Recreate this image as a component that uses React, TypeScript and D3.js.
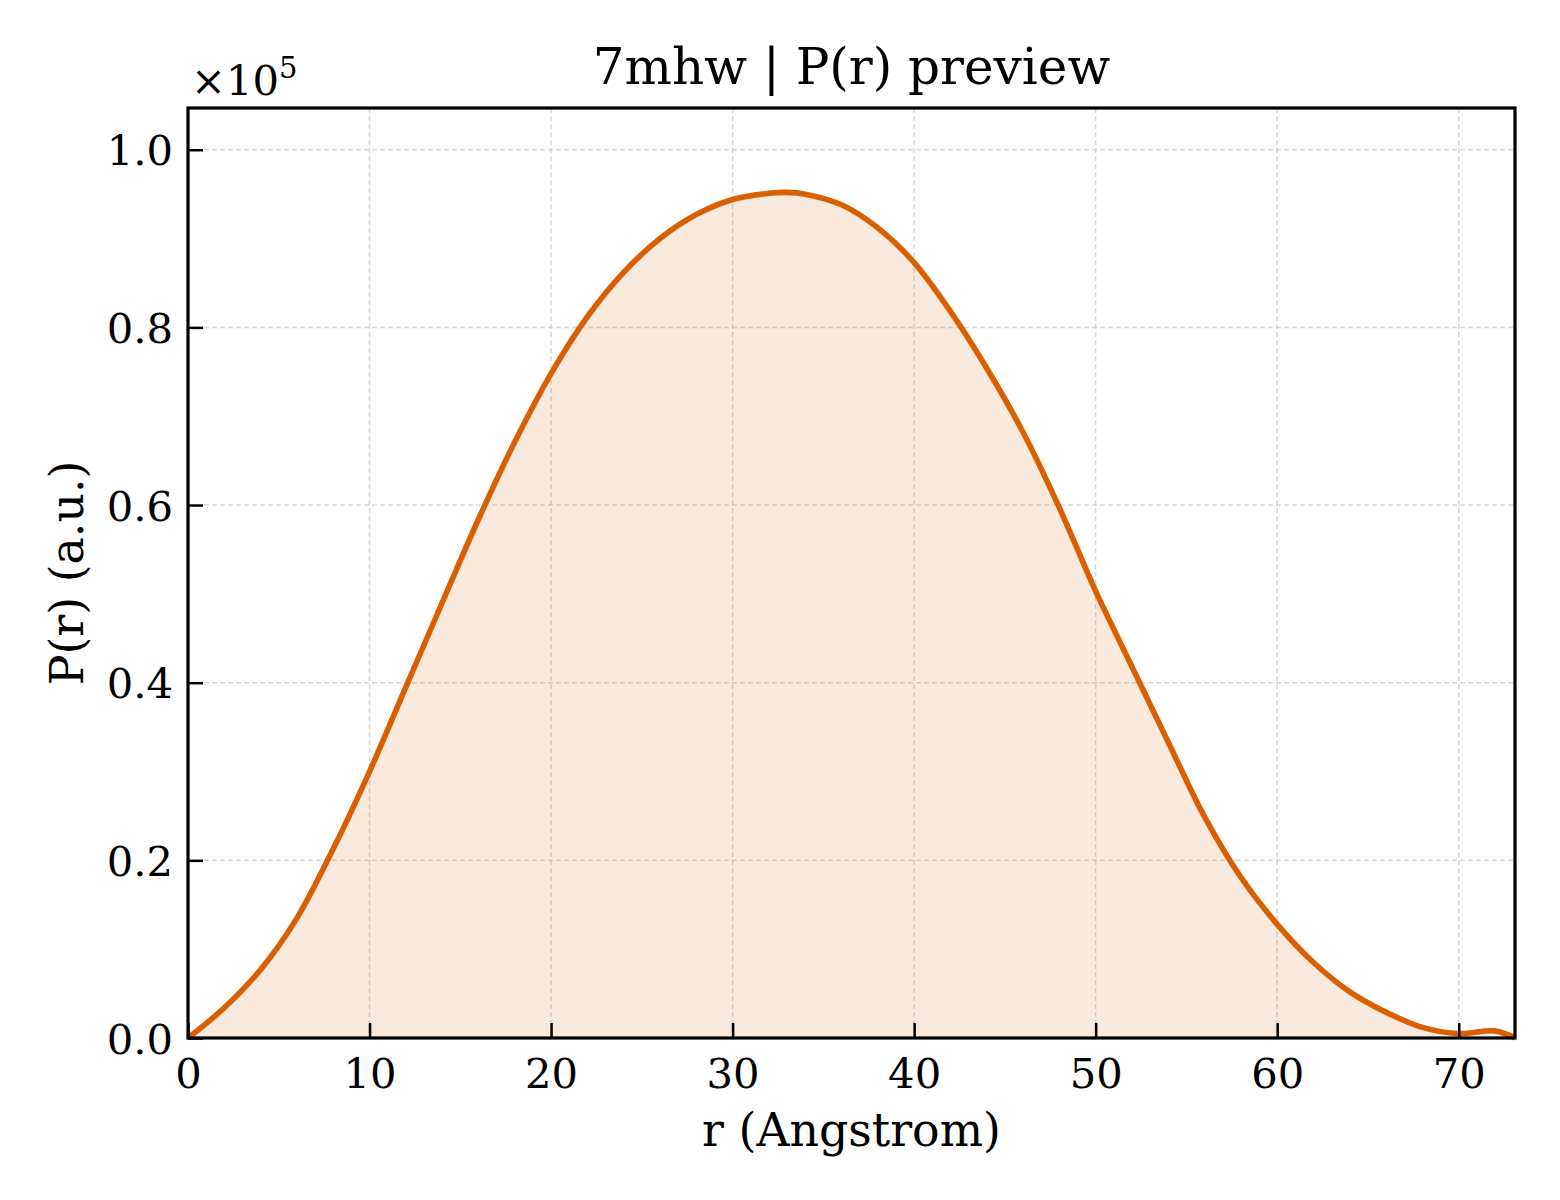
import { useEffect, useRef } from 'react';
import * as d3 from 'd3';

const rValues = [0, 2, 4, 6, 8, 10, 12, 14, 16, 18, 20, 22, 24, 26, 28, 30, 32, 33, 34, 36, 38, 40, 42, 44, 46, 48, 50, 52, 54, 56, 58, 60, 62, 64, 66, 68, 70, 72, 73.1];
const pValues = [0, 0.034, 0.077, 0.135, 0.213, 0.3, 0.395, 0.49, 0.584, 0.671, 0.748, 0.812, 0.862, 0.9, 0.927, 0.944, 0.951, 0.952, 0.95, 0.938, 0.912, 0.873, 0.818, 0.754, 0.682, 0.597, 0.503, 0.418, 0.333, 0.249, 0.181, 0.128, 0.085, 0.052, 0.029, 0.012, 0.005, 0.008, 0];

const xTicks = [0, 10, 20, 30, 40, 50, 60, 70];
const yTicks = [0, 0.2, 0.4, 0.6, 0.8, 1.0];

const title = '7mhw | P(r) preview';
const xLabel = 'r (Angstrom)';
const yLabel = 'P(r) (a.u.)';

export default function App() {
  const svgRef = useRef<SVGSVGElement>(null);
  const width = 1560;
  const height = 1200;

  useEffect(() => {
    if (!svgRef.current) return;
    const svg = d3.select(svgRef.current);
    svg.selectAll('*').remove();

    const margin = { top: 108, right: 45, bottom: 162, left: 188 };
    const innerWidth = width - margin.left - margin.right;
    const innerHeight = height - margin.top - margin.bottom;
    const font = 'DejaVu Serif, serif';
    const color = '#d95f02';

    svg.append('rect').attr('width', width).attr('height', height).attr('fill', '#fff');

    const g = svg.append('g').attr('transform', `translate(${margin.left},${margin.top})`);

    const x = d3.scaleLinear().domain([0, 73.1]).range([0, innerWidth]);
    const y = d3.scaleLinear().domain([0, 1.047]).range([innerHeight, 0]);

    const data = rValues.map((r, i) => ({ r, p: pValues[i] }));

    // grid
    g.selectAll('.gx')
      .data(xTicks)
      .enter().append('line')
      .attr('x1', d => x(d)).attr('x2', d => x(d))
      .attr('y1', 0).attr('y2', innerHeight)
      .attr('stroke', '#b0b0b0').attr('stroke-opacity', 0.5)
      .attr('stroke-width', 1.5).attr('stroke-dasharray', '5,3');
    g.selectAll('.gy')
      .data(yTicks)
      .enter().append('line')
      .attr('x1', 0).attr('x2', innerWidth)
      .attr('y1', d => y(d)).attr('y2', d => y(d))
      .attr('stroke', '#b0b0b0').attr('stroke-opacity', 0.5)
      .attr('stroke-width', 1.5).attr('stroke-dasharray', '5,3');

    const area = d3.area<{ r: number; p: number }>()
      .x(d => x(d.r)).y0(y(0)).y1(d => y(d.p))
      .curve(d3.curveCatmullRom.alpha(0.5));
    g.append('path').datum(data).attr('d', area)
      .attr('fill', color).attr('fill-opacity', 0.13);

    const line = d3.line<{ r: number; p: number }>()
      .x(d => x(d.r)).y(d => y(d.p))
      .curve(d3.curveCatmullRom.alpha(0.5));
    g.append('path').datum(data).attr('d', line)
      .attr('fill', 'none').attr('stroke', color)
      .attr('stroke-width', 5.6).attr('stroke-linejoin', 'round');

    // axes with inward ticks
    const xAxis = g.append('g').attr('transform', `translate(0,${innerHeight})`)
      .call(d3.axisBottom(x).tickValues(xTicks).tickSizeInner(-15).tickSizeOuter(0).tickPadding(20).tickFormat(d3.format('d')));
    const yAxis = g.append('g')
      .call(d3.axisLeft(y).tickValues(yTicks).tickSizeInner(-15).tickSizeOuter(0).tickPadding(15).tickFormat(d3.format('.1f')));
    [xAxis, yAxis].forEach(ax => {
      ax.select('.domain').remove();
      ax.selectAll('line').attr('stroke', '#000').attr('stroke-width', 2.5);
      ax.selectAll('text').attr('font-family', font).attr('font-size', 41.7).attr('fill', '#000');
    });
    xAxis.selectAll('text').attr('dy', '0.71em');
    yAxis.selectAll('text').attr('dy', '0.36em');

    g.append('rect').attr('width', innerWidth).attr('height', innerHeight)
      .attr('fill', 'none').attr('stroke', '#000').attr('stroke-width', 3.2);

    // offset text
    const off = svg.append('text').attr('x', margin.left + 3).attr('y', 95)
      .attr('font-family', font).attr('font-size', 41.7).attr('fill', '#000');
    off.append('tspan').text('×10');
    off.append('tspan').attr('font-size', 29).attr('dy', -17).text('5');

    svg.append('text').attr('x', margin.left + innerWidth / 2).attr('y', 84)
      .attr('text-anchor', 'middle').attr('font-family', font).attr('font-size', 50)
      .attr('fill', '#000').text(title);

    svg.append('text').attr('x', margin.left + innerWidth / 2).attr('y', 1146)
      .attr('text-anchor', 'middle').attr('font-family', font).attr('font-size', 45.8)
      .attr('fill', '#000').text(xLabel);

    svg.append('text').attr('transform', `translate(83,${margin.top + innerHeight / 2}) rotate(-90)`)
      .attr('text-anchor', 'middle').attr('font-family', font).attr('font-size', 45.8)
      .attr('fill', '#000').text(yLabel);
  }, []);

  return (
    <svg ref={svgRef} width={width} height={height}
      style={{ position: 'absolute', left: 0, top: 0, display: 'block' }} />
  );
}
